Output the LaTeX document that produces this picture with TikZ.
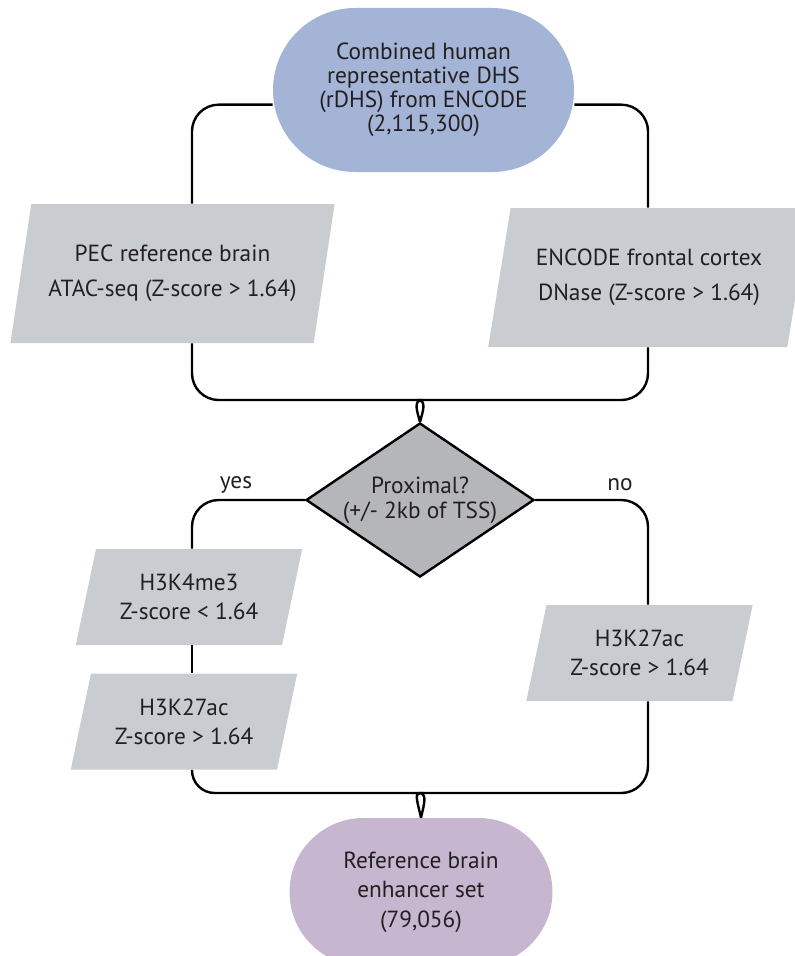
\documentclass[tikz,border=0pt]{standalone}
\usepackage{fontspec}
\setmainfont{PT Sans}
\usetikzlibrary{shapes.geometric,shapes.misc}

\definecolor{dhsblue}{RGB}{163,180,214}
\definecolor{enhpurple}{RGB}{199,182,208}
\definecolor{boxgrey}{RGB}{201,205,209}
\definecolor{diagrey}{RGB}{180,182,186}
\definecolor{txtgrey}{RGB}{35,31,32}

\tikzset{
    base/.style = {text = txtgrey, align = center, inner sep = 0pt},
    terminal/.style = {base, rounded rectangle, font = \fontsize{17.5}{18}\selectfont},
    data/.style = {base, trapezium, trapezium left angle = 72, trapezium right angle = 108,
        trapezium stretches = true, fill = boxgrey, font = \fontsize{17.5}{26}\selectfont},
    smalldata/.style = {data, minimum width = 170pt, minimum height = 72pt, font = \fontsize{17.5}{22}\selectfont},
    decision/.style = {base, diamond, draw = black, line width = 1.8pt, fill = diagrey, aspect = 1.48,
        inner sep = -4pt, minimum width = 171pt, minimum height = 115.5pt, font = \fontsize{17.5}{18.5}\selectfont},
    branch/.style = {base, font = \fontsize{17.5}{18}\selectfont},
    link/.style = {draw = black, line width = 1.8pt, rounded corners = 20pt}
}

\begin{document}
\begin{tikzpicture}[x = 0.75pt, y = -0.75pt]
    \useasboundingbox (0,0) rectangle (794,956);

    \node[terminal, fill = dhsblue, minimum width = 225.75pt, minimum height = 123pt] (rdhs) at (423.5,90)
        {Combined human\\representative DHS\\(rDHS) from ENCODE\\(2,115,300)};
    \node[data, minimum width = 243.75pt, minimum height = 104.25pt] (pec) at (172.5,273.5)
        {PEC reference brain\\ATAC-seq (Z-score > 1.64)};
    \node[data, minimum width = 241.5pt, minimum height = 104.25pt] (dnase) at (649,277.5)
        {ENCODE frontal cortex\\DNase (Z-score > 1.64)};
    \node[decision] (prox) at (420,500) {Proximal?\\(+/- 2kb of TSS)};
    \node[smalldata] (hkfour) at (189,597) {H3K4me3\\Z-score < 1.64};
    \node[smalldata] (hkprox) at (184,721.5) {H3K27ac\\Z-score > 1.64};
    \node[smalldata] (hkdist) at (639.5,653) {H3K27ac\\Z-score > 1.64};
    \node[terminal, fill = enhpurple, minimum width = 197.25pt, minimum height = 111pt,
        font = \fontsize{17.5}{22}\selectfont] (enh) at (421,892)
        {Reference brain\\enhancer set\\(79,056)};
    \node[branch] (yes) at (236,485) {yes};
    \node[branch] (no) at (620,485) {no};

    \coordinate (lcol) at (192,0);
    \coordinate (rcol) at (648,0);
    \coordinate (topl) at (396,400);
    \coordinate (topr) at (444,400);
    \coordinate (botl) at (397,793);
    \coordinate (botr) at (445,793);

    \draw[link] ([yshift = -11pt]rdhs.west) -| (pec.north -| lcol);
    \draw[link] ([yshift = -11pt]rdhs.east) -| (dnase.north -| rcol);
    \draw[link] (pec.south -| lcol) |- (topl) [sharp corners] .. controls (413,400) and (417,411) .. (prox.north);
    \draw[link] (dnase.south -| rcol) |- (topr) [sharp corners] .. controls (427,400) and (423,411) .. (prox.north);
    \draw[link] (prox.west) -| (hkfour.north -| lcol);
    \draw[link] (prox.east) -| (hkdist.north -| rcol);
    \draw[link] (hkfour.south -| lcol) -- (hkprox.north -| lcol);
    \draw[link, rounded corners = 17pt] (hkprox.south -| lcol) |- (botl) [sharp corners] .. controls (414,793) and (418,804) .. (enh.north);
    \draw[link] (hkdist.south -| rcol) |- (botr) [sharp corners] .. controls (428,793) and (424,804) .. (enh.north);
\end{tikzpicture}
\end{document}
